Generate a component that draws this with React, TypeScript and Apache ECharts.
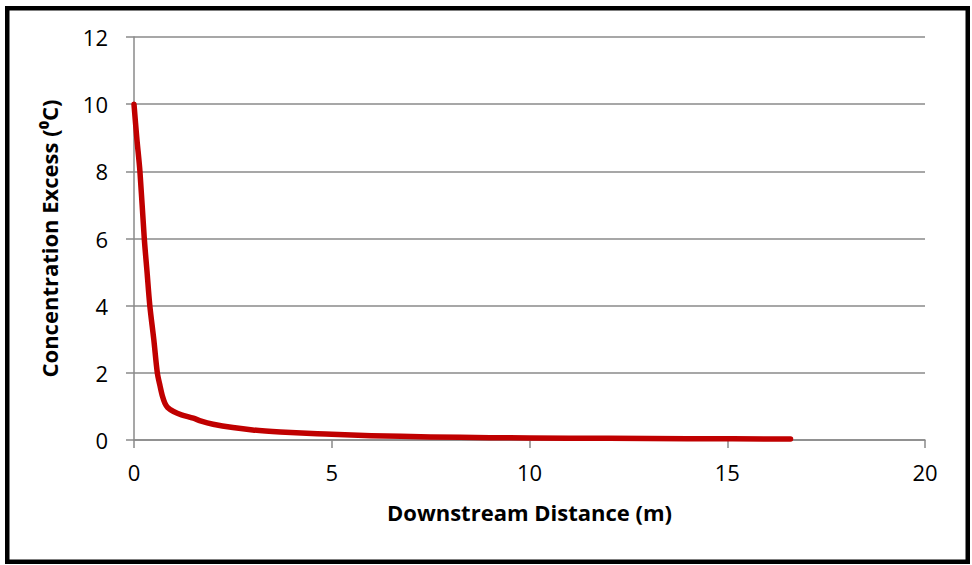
import React, { useEffect, useRef } from "react";
import * as echarts from "echarts";

const xValues = [0, 0.07, 0.15, 0.26, 0.33, 0.4, 0.5, 0.59, 0.66, 0.72, 0.78, 0.85, 1.0, 1.2, 1.5, 1.7, 2.0, 2.5, 3.0, 3.7, 4.5, 5, 6, 7.5, 9, 10, 12, 14, 16.6];
const yValues = [10, 9, 8, 6, 5, 4, 3, 2, 1.6, 1.3, 1.1, 0.97, 0.85, 0.75, 0.65, 0.56, 0.47, 0.37, 0.3, 0.24, 0.19, 0.17, 0.13, 0.09, 0.07, 0.06, 0.05, 0.04, 0.03];

const xTitle = "Downstream Distance (m)";
const yTitle = "Concentration Excess (\u2070C)";

export default function App() {
  const ref = useRef<HTMLDivElement>(null);
  useEffect(() => {
    if (!ref.current) return;
    const chart = echarts.init(ref.current, null, { renderer: "svg" });
    const font = "'Open Sans', Lato, sans-serif";
    const gray = "#8a8a8a";
    chart.setOption({
      animation: false,
      backgroundColor: "#ffffff",
      textStyle: { fontFamily: font },
      grid: { left: 134, right: 972 - 925, top: 37, bottom: 565 - 440, containLabel: false },
      xAxis: {
        type: "value",
        min: 0,
        max: 20,
        interval: 5,
        name: xTitle,
        nameLocation: "middle",
        nameGap: 61,
        nameTextStyle: { fontFamily: font, fontSize: 22, fontWeight: "bold", color: "#000" },
        axisLine: { show: true, lineStyle: { color: gray, width: 1.5 } },
        axisTick: { show: true, inside: false, length: 8, lineStyle: { color: gray, width: 1.5 } },
        axisLabel: { fontFamily: font, fontSize: 22, color: "#000", margin: 21 },
        splitLine: { show: false },
      },
      yAxis: {
        type: "value",
        min: 0,
        max: 12,
        interval: 2,
        name: yTitle,
        nameLocation: "middle",
        nameGap: 74,
        nameRotate: 90,
        nameTextStyle: { fontFamily: font, fontSize: 22, fontWeight: "bold", color: "#000" },
        axisLine: { show: true, onZero: false, lineStyle: { color: gray, width: 1.5 } },
        axisTick: { show: true, inside: false, length: 8, lineStyle: { color: gray, width: 1.5 } },
        axisLabel: { fontFamily: font, fontSize: 22, color: "#000", margin: 26 },
        splitLine: { show: true, lineStyle: { color: gray, width: 1.5 } },
      },
      series: [
        {
          type: "line",
          data: xValues.map((x, i) => [x, yValues[i]]),
          showSymbol: false,
          smooth: 0.3,
          lineStyle: { color: "#C00000", width: 5.5, cap: "round", join: "round" },
          itemStyle: { color: "#C00000" },
        },
      ],
      graphic: [
        {
          type: "rect",
          shape: { x: 7.25, y: 8.25, width: 960.5, height: 553.5 },
          style: { fill: "none", stroke: "#000", lineWidth: 4.5 },
          z: 100,
        },
      ],
    });
    return () => chart.dispose();
  }, []);
  return (
    <div
      ref={ref}
      style={{ position: "fixed", left: 0, top: 0, width: 972, height: 565, background: "#fff" }}
    />
  );
}
